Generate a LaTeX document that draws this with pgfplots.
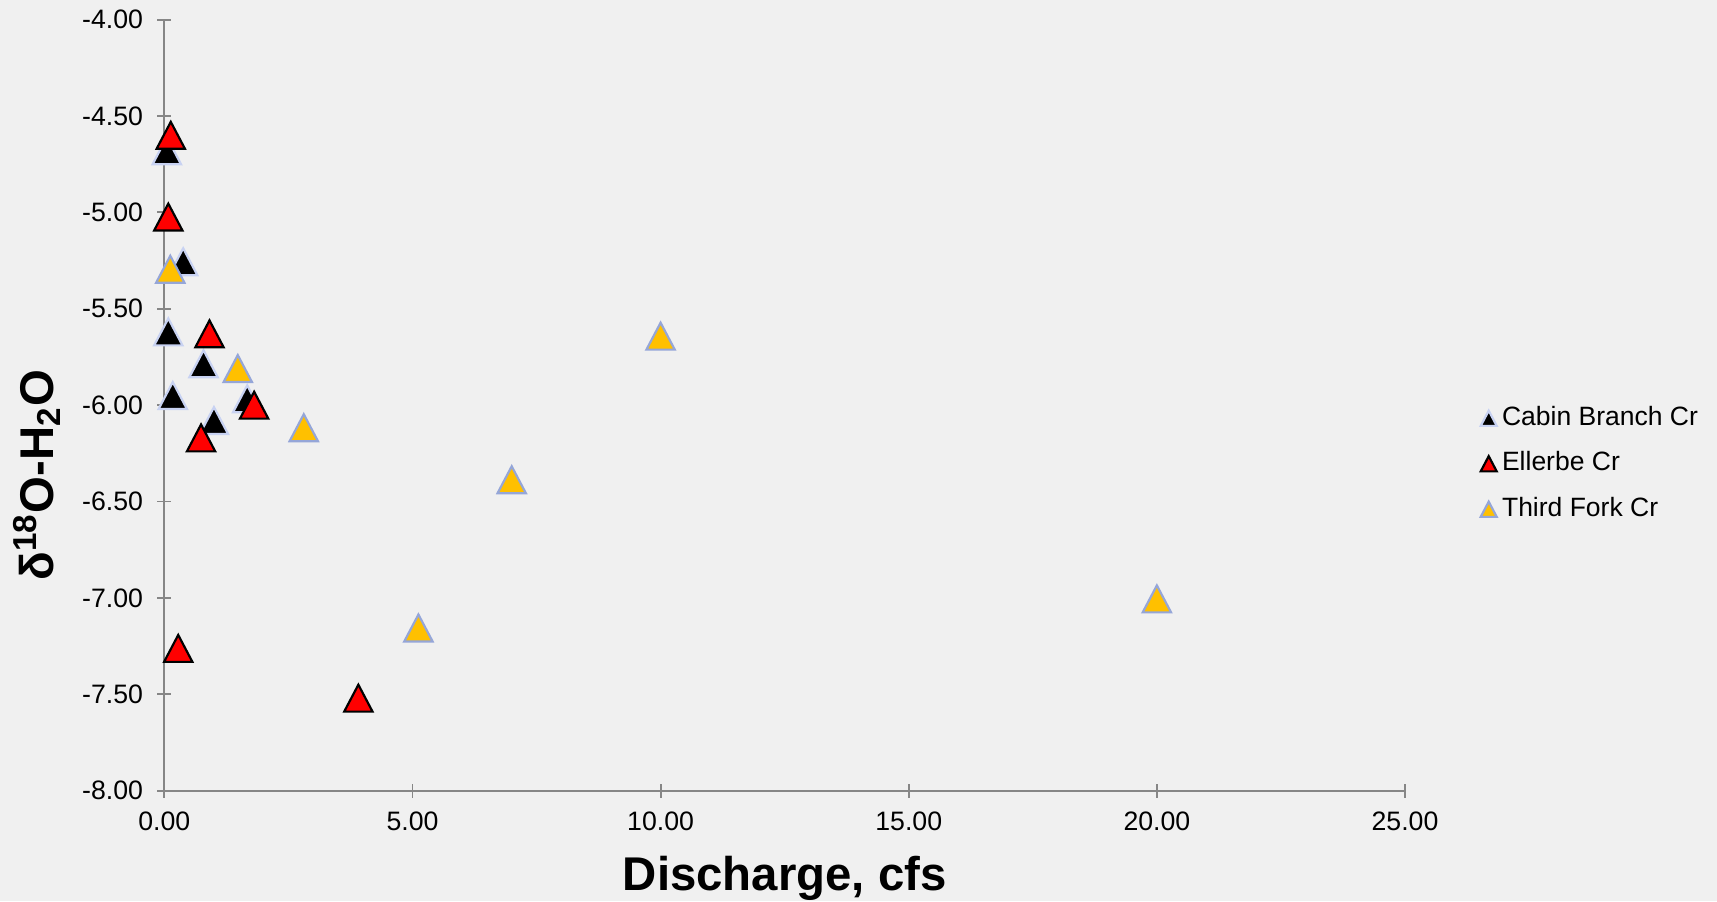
\documentclass[border=0pt]{standalone}
\usepackage{fontspec}
\setmainfont{Liberation Sans}
\usepackage{pgfplots}
\pgfplotsset{compat=1.18}

\definecolor{bg}{HTML}{F0F0F0}
\definecolor{axisgray}{HTML}{868686}
\definecolor{cabinedge}{HTML}{C8D2F2}
\definecolor{forkfill}{HTML}{FFC000}
\definecolor{forkedge}{HTML}{95A6D8}

% triangle centred on its bounding box
\pgfdeclareplotmark{boxtri}{%
  \pgfpathmoveto{\pgfqpoint{0pt}{0.95\pgfplotmarksize}}%
  \pgfpathlineto{\pgfqpoint{-\pgfplotmarksize}{-0.95\pgfplotmarksize}}%
  \pgfpathlineto{\pgfqpoint{\pgfplotmarksize}{-0.95\pgfplotmarksize}}%
  \pgfpathclose
  \pgfusepathqfillstroke}

\pgfplotsset{
  legimg/.style={legend image code/.code={%
      \draw[##1,mark size=2.4bp] plot coordinates {(0bp,0bp)};}},
}

\begin{document}
\begin{tikzpicture}
\fill[bg] (0,0) rectangle (515.1bp,270.3bp);
\begin{axis}[
  scale only axis, width=372.2bp, height=231.3bp,
  at={(49.3bp,33.1bp)}, anchor=south west,
  xmin=0, xmax=25, ymin=-8, ymax=-4,
  axis x line*=bottom, axis y line*=left,
  axis line style={draw=axisgray, line width=0.55bp},
  xtick={0,5,10,15,20,25},
  ytick={-8,-7.5,-7,-6.5,-6,-5.5,-5,-4.5,-4},
  tick align=center, major tick length=4.2bp,
  tick style={draw=axisgray, line width=0.55bp},
  /pgf/number format/assume math mode=true,
  /pgf/number format/.cd, fixed, fixed zerofill, precision=2, /pgfplots/.cd,
  ticklabel style={font=\fontsize{8bp}{9bp}\selectfont, inner sep=0pt},
  xticklabel style={anchor=base, yshift=-9.9bp},
  yticklabel style={anchor=east, xshift=-4.1bp},
  xlabel={Discharge, cfs},
  xlabel style={font=\fontsize{14.2bp}{16bp}\selectfont\bfseries,
    at={(axis description cs:0.5,-0.1289)}, anchor=base, inner sep=0pt},
  ylabel={δ\textsuperscript{18}O-H\textsubscript{2}O},
  ylabel style={font=\fontsize{14.2bp}{16bp}\selectfont\bfseries,
    at={(axis description cs:-0.0893,0.4094)}, anchor=base, inner sep=0pt},
  clip=false,
  legend cell align=left,
  legend style={at={(axis description cs:1.0605,0.424)}, anchor=west,
    draw=none, fill=none, inner sep=0pt,
    font=\fontsize{7.95bp}{9bp}\selectfont,
    row sep=6.35bp,
    nodes={inner sep=0pt, text height=5.8bp, text depth=1.5bp},
    /tikz/every odd column/.style={column sep=1.6bp}},
]
\addplot[only marks, mark=boxtri, mark size=4.25bp,
  mark options={fill=black, draw=cabinedge, line width=0.65bp}, legimg]
  coordinates {(0.05,-4.68) (0.38,-5.256) (0.08,-5.62) (0.79,-5.785)
               (0.17,-5.95) (1.67,-5.967) (1.00,-6.08)};
\addlegendentry{Cabin Branch Cr}
\addplot[only marks, mark=boxtri, mark size=4.25bp,
  mark options={fill=red, draw=black, line width=0.65bp}, legimg]
  coordinates {(0.13,-4.60) (0.08,-5.024) (0.91,-5.63) (1.81,-6.00)
               (0.74,-6.17) (0.28,-7.262) (3.91,-7.52)};
\addlegendentry{Ellerbe Cr}
\addplot[only marks, mark=boxtri, mark size=4.25bp,
  mark options={fill=forkfill, draw=forkedge, line width=0.65bp}, legimg]
  coordinates {(0.12,-5.295) (1.48,-5.81) (2.81,-6.117) (7.00,-6.387)
               (5.12,-7.156) (10.0,-5.642) (20.0,-7.005)};
\addlegendentry{Third Fork Cr}
\end{axis}
\pgfresetboundingbox
\useasboundingbox (0,0) rectangle (515.1bp,270.3bp);
\end{tikzpicture}
\end{document}
